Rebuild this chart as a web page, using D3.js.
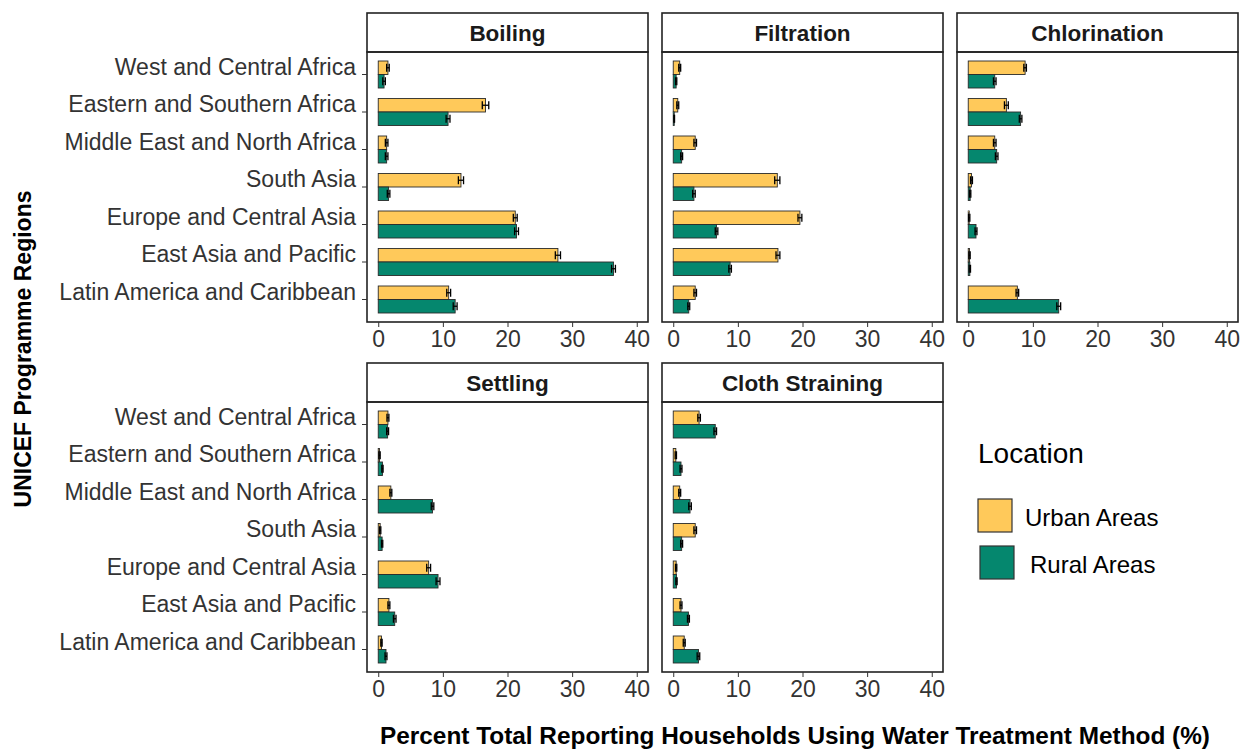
<!DOCTYPE html>
<html>
<head>
<meta charset="utf-8">
<script src="https://cdn.jsdelivr.net/npm/d3@7"></script>
<style>
  body { margin: 0; background: #fff; }
  text { font-family: "Liberation Sans", Arial, sans-serif; }
</style>
</head>
<body>
<div id="chart"></div>
<script>
// regions, top to bottom
var regions = ["West and Central Africa", "Eastern and Southern Africa", "Middle East and North Africa",
  "South Asia", "Europe and Central Asia", "East Asia and Pacific", "Latin America and Caribbean"]
var methods = ["Boiling", "Filtration", "Chlorination", "Settling", "Cloth Straining"]
var locations = ["Urban Areas", "Rural Areas"]
var xTicks = [0, 10, 20, 30, 40]

// percent of households
var boilingUrban = [1.5, 16.6, 1.3, 12.8, 21.2, 27.8, 10.9]
var boilingRural = [0.9, 10.8, 1.3, 1.6, 21.4, 36.4, 11.9]
var filtrationUrban = [1.0, 0.7, 3.4, 16.1, 19.6, 16.2, 3.4]
var filtrationRural = [0.45, 0.15, 1.3, 3.2, 6.7, 8.8, 2.4]
var chlorinationUrban = [8.8, 5.9, 4.1, 0.5, 0.15, 0.2, 7.6]
var chlorinationRural = [4.1, 8.1, 4.4, 0.3, 1.2, 0.25, 14.0]
var settlingUrban = [1.5, 0.2, 1.95, 0.3, 7.8, 1.65, 0.5]
var settlingRural = [1.45, 0.65, 8.4, 0.6, 9.25, 2.55, 1.2]
var clothUrban = [4.0, 0.4, 1.0, 3.4, 0.45, 1.2, 1.7]
var clothRural = [6.5, 1.2, 2.6, 1.3, 0.5, 2.35, 3.9]

// standard errors (approximate)
var boilingErrUrban = [0.2, 0.5, 0.2, 0.4, 0.3, 0.4, 0.3]
var boilingErrRural = [0.2, 0.3, 0.2, 0.2, 0.3, 0.3, 0.3]
var filtrationErrUrban = [0.15, 0.15, 0.2, 0.4, 0.3, 0.3, 0.2]
var filtrationErrRural = [0.1, 0.05, 0.15, 0.2, 0.2, 0.2, 0.15]
var chlorinationErrUrban = [0.2, 0.3, 0.2, 0.15, 0.1, 0.1, 0.2]
var chlorinationErrRural = [0.2, 0.2, 0.2, 0.1, 0.15, 0.1, 0.3]
var settlingErrUrban = [0.15, 0.1, 0.15, 0.1, 0.3, 0.15, 0.1]
var settlingErrRural = [0.15, 0.1, 0.2, 0.1, 0.3, 0.2, 0.15]
var clothErrUrban = [0.2, 0.1, 0.15, 0.2, 0.1, 0.15, 0.15]
var clothErrRural = [0.2, 0.15, 0.2, 0.15, 0.1, 0.15, 0.2]

var series = {
  "Boiling": [boilingUrban, boilingRural, boilingErrUrban, boilingErrRural],
  "Filtration": [filtrationUrban, filtrationRural, filtrationErrUrban, filtrationErrRural],
  "Chlorination": [chlorinationUrban, chlorinationRural, chlorinationErrUrban, chlorinationErrRural],
  "Settling": [settlingUrban, settlingRural, settlingErrUrban, settlingErrRural],
  "Cloth Straining": [clothUrban, clothRural, clothErrUrban, clothErrRural]
}

var width = 1243, height = 751
var colX = [367, 662, 957]
var rowY = [13, 363]
var panelW = 281, stripH = 39, plotH = 270
var axisFont = 23

var color = d3.scaleOrdinal().domain(locations).range(["#FFC95A", "#05876E"])

var svg = d3.select("#chart").append("svg")
  .attr("width", width)
  .attr("height", height)

svg.append("rect").attr("width", width).attr("height", height).attr("fill", "#fff")

var y = d3.scaleBand()
  .domain(regions)
  .range([0, plotH])
  .paddingInner(0.28)
  .paddingOuter(0.24)

var yInner = d3.scaleBand()
  .domain(locations)
  .range([0, y.bandwidth()])

var x = d3.scaleLinear()
  .domain([0, 40])
  .range([panelW * 0.04, panelW * 0.96])

methods.forEach(function(m, i) {
  var col = i % 3, row = Math.floor(i / 3)
  var g = svg.append("g")
    .attr("transform", "translate(" + colX[col] + "," + rowY[row] + ")")

  // strip
  g.append("rect")
    .attr("x", 0).attr("y", 0)
    .attr("width", panelW).attr("height", stripH)
    .attr("fill", "#fff").attr("stroke", "#222").attr("stroke-width", 1.6)
  g.append("text")
    .attr("x", panelW / 2).attr("y", stripH / 2 + 8)
    .attr("text-anchor", "middle")
    .attr("font-size", 22.5).attr("font-weight", "bold")
    .attr("fill", "#1a1a1a")
    .text(m)

  var p = g.append("g").attr("transform", "translate(0," + stripH + ")")

  var s = series[m]
  var rows = []
  regions.forEach(function(r, k) {
    rows.push({region: r, loc: locations[0], v: s[0][k], e: s[2][k]})
    rows.push({region: r, loc: locations[1], v: s[1][k], e: s[3][k]})
  })

  p.selectAll("rect.bar")
    .data(rows)
    .enter()
    .append("rect")
    .attr("class", "bar")
    .attr("x", x(0))
    .attr("y", function(d) { return y(d.region) + yInner(d.loc) })
    .attr("width", function(d) { return x(d.v) - x(0) })
    .attr("height", yInner.bandwidth())
    .attr("fill", function(d) { return color(d.loc) })
    .attr("stroke", "#2a2a2a")
    .attr("stroke-width", 0.9)

  // error bars
  var eb = p.selectAll("g.err")
    .data(rows)
    .enter()
    .append("g")
    .attr("class", "err")
    .attr("transform", function(d) {
      return "translate(0," + (y(d.region) + yInner(d.loc) + yInner.bandwidth() / 2) + ")"
    })
  eb.append("line")
    .attr("x1", function(d) { return x(d.v - d.e) })
    .attr("x2", function(d) { return x(d.v + d.e) })
    .attr("stroke", "#000").attr("stroke-width", 1.3)
  eb.append("line")
    .attr("x1", function(d) { return x(d.v - d.e) })
    .attr("x2", function(d) { return x(d.v - d.e) })
    .attr("y1", -4).attr("y2", 4)
    .attr("stroke", "#000").attr("stroke-width", 1.3)
  eb.append("line")
    .attr("x1", function(d) { return x(d.v + d.e) })
    .attr("x2", function(d) { return x(d.v + d.e) })
    .attr("y1", -4).attr("y2", 4)
    .attr("stroke", "#000").attr("stroke-width", 1.3)

  // panel border
  p.append("rect")
    .attr("width", panelW).attr("height", plotH)
    .attr("fill", "none").attr("stroke", "#222").attr("stroke-width", 1.6)

  // x axis
  var xa = p.append("g")
    .attr("transform", "translate(0," + plotH + ")")
    .call(d3.axisBottom(x).tickValues(xTicks).tickSize(5).tickPadding(4))
  xa.select(".domain").remove()
  xa.selectAll("line").attr("stroke", "#333")
  xa.selectAll("text")
    .attr("font-size", axisFont)
    .attr("font-family", "Liberation Sans, Arial, sans-serif")
    .attr("fill", "#333")

  // y axis on left column only
  if (col == 0) {
    var ya = p.append("g")
      .call(d3.axisLeft(y).tickSize(5).tickPadding(6))
    ya.select(".domain").remove()
    ya.selectAll("line").attr("stroke", "#333")
    ya.selectAll("text")
      .attr("dy", "0.02em")
      .attr("font-size", axisFont)
      .attr("font-family", "Liberation Sans, Arial, sans-serif")
      .attr("fill", "#333")
  }
})

// axis titles
svg.append("text")
  .attr("transform", "translate(31,349) rotate(-90)")
  .attr("text-anchor", "middle")
  .attr("font-size", 23).attr("font-weight", "bold")
  .text("UNICEF Programme Regions")

svg.append("text")
  .attr("x", 380).attr("y", 744)
  .attr("textLength", 830)
  .attr("lengthAdjust", "spacingAndGlyphs")
  .attr("font-size", 24).attr("font-weight", "bold")
  .text("Percent Total Reporting Households Using Water Treatment Method (%)")

// legend
var lg = svg.append("g").attr("transform", "translate(978,0)")
lg.append("text")
  .attr("x", 0).attr("y", 463)
  .attr("font-size", 28)
  .text("Location")

var items = lg.selectAll("g.item")
  .data(locations)
  .enter()
  .append("g")
  .attr("class", "item")
  .attr("transform", function(d, i) { return "translate(" + (i * 2) + "," + (499 + i * 47) + ")" })
items.append("rect")
  .attr("width", 34).attr("height", 33)
  .attr("fill", function(d) { return color(d) })
  .attr("stroke", "#333").attr("stroke-width", 1.2)
items.append("text")
  .attr("x", function(d, i) { return 47 + i * 3 })
  .attr("y", 27)
  .attr("font-size", 24)
  .text(function(d) { return d })
</script>
</body>
</html>
